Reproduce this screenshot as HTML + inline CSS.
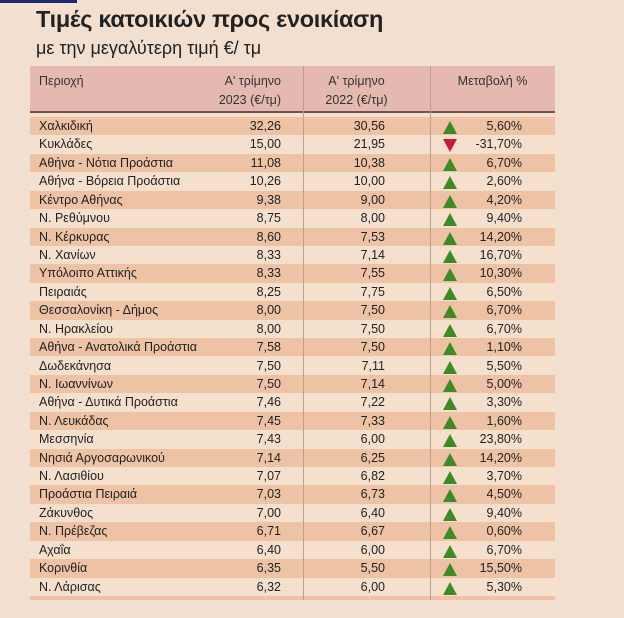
<!DOCTYPE html>
<html><head><meta charset="utf-8"><style>
body{margin:0;width:624px;height:618px;background:#f3dfcf;font-family:"Liberation Sans","DejaVu Sans",sans-serif;color:#222;position:relative;overflow:hidden}
#bar{position:absolute;left:0;top:0;width:77px;height:3px;background:#1c2a6e}
h1{position:absolute;left:36px;top:6px;margin:0;font-size:23.5px;font-weight:bold;letter-spacing:-0.3px}
h2{position:absolute;left:36px;top:38px;margin:0;font-size:18px;font-weight:normal}
#tbl{position:absolute;left:30px;top:66px;width:525px;height:534px;background:#f5dfcd}
.hdr{position:absolute;left:0;top:0;width:525px;height:45px;background:#e6b9b0;border-bottom:2px solid #6b5450;font-size:12.5px;color:#333}
.hdr div{position:absolute;line-height:19px}
.vl{position:absolute;top:0;width:1px;height:534px;background:#b9a090}
.row{position:absolute;left:0;width:525px;height:19.17px;font-size:12.5px;line-height:19px}
.row span{position:absolute}
.tri{position:absolute;left:413px;top:4px;width:0;height:0;border-left:7px solid transparent;border-right:7px solid transparent}
.up{border-bottom:13px solid #3d8a26}
.dn{border-top:13px solid #c01f3c}
</style></head><body>
<div id="bar"></div>
<h1>Τιμές κατοικιών προς ενοικίαση</h1>
<h2>με την μεγαλύτερη τιμή €/ τμ</h2>
<div id="tbl">
<div class="hdr">
<div style="left:9px;top:6px">Περιοχή</div>
<div style="right:274px;top:6px;text-align:right">Α' τρίμηνο<br>2023 (€/τμ)</div>
<div style="left:273px;width:107px;top:6px;text-align:center">Α' τρίμηνο<br>2022 (€/τμ)</div>
<div style="left:400px;width:125px;top:6px;text-align:center">Μεταβολή %</div>
</div>
<div id="rows"></div>
<div class="vl" style="left:273px"></div>
<div class="vl" style="left:400px"></div>
</div>
<script>
const regions=["Χαλκιδική","Κυκλάδες","Αθήνα - Νότια Προάστια","Αθήνα - Βόρεια Προάστια","Κέντρο Αθήνας","Ν. Ρεθύμνου","Ν. Κέρκυρας","Ν. Χανίων","Υπόλοιπο Αττικής","Πειραιάς","Θεσσαλονίκη - Δήμος","Ν. Ηρακλείου","Αθήνα - Ανατολικά Προάστια","Δωδεκάνησα","Ν. Ιωαννίνων","Αθήνα - Δυτικά Προάστια","Ν. Λευκάδας","Μεσσηνία","Νησιά Αργοσαρωνικού","Ν. Λασιθίου","Προάστια Πειραιά","Ζάκυνθος","Ν. Πρέβεζας","Αχαΐα","Κορινθία","Ν. Λάρισας"];
const v2023=["32,26","15,00","11,08","10,26","9,38","8,75","8,60","8,33","8,33","8,25","8,00","8,00","7,58","7,50","7,50","7,46","7,45","7,43","7,14","7,07","7,03","7,00","6,71","6,40","6,35","6,32"];
const v2022=["30,56","21,95","10,38","10,00","9,00","8,00","7,53","7,14","7,55","7,75","7,50","7,50","7,50","7,11","7,14","7,22","7,33","6,00","6,25","6,82","6,73","6,40","6,67","6,00","5,50","6,00"];
const change=[5.6,-31.7,6.7,2.6,4.2,9.4,14.2,16.7,10.3,6.5,6.7,6.7,1.1,5.5,5.0,3.3,1.6,23.8,14.2,3.7,4.5,9.4,0.6,6.7,15.5,5.3];
const rowsEl=document.getElementById('rows');
const rh=(534-51-4)/regions.length;
regions.forEach((r,i)=>{
 const d=document.createElement('div');
 d.className='row';
 
 
 d.style.top=(51+i*rh)+'px';
 d.style.height=rh+'px';
 d.style.background=i%2===0?'#eec2a4':'#f5dfcd';
 const pct=change[i].toFixed(2).replace('.',',')+'%';
 d.innerHTML='<span style="left:9px">'+r+'</span><span style="right:274px">'+v2023[i]+'</span><span style="right:170px">'+v2022[i]+'</span><div class="tri '+(change[i]>=0?'up':'dn')+'"></div><span style="right:33px">'+pct+'</span>';
 rowsEl.appendChild(d);
});
const last=document.createElement('div');


last.style.cssText='position:absolute;left:0;width:525px;top:'+(51+regions.length*rh)+'px;height:4px;background:#eec2a4';
rowsEl.appendChild(last);
</script>
</body></html>
